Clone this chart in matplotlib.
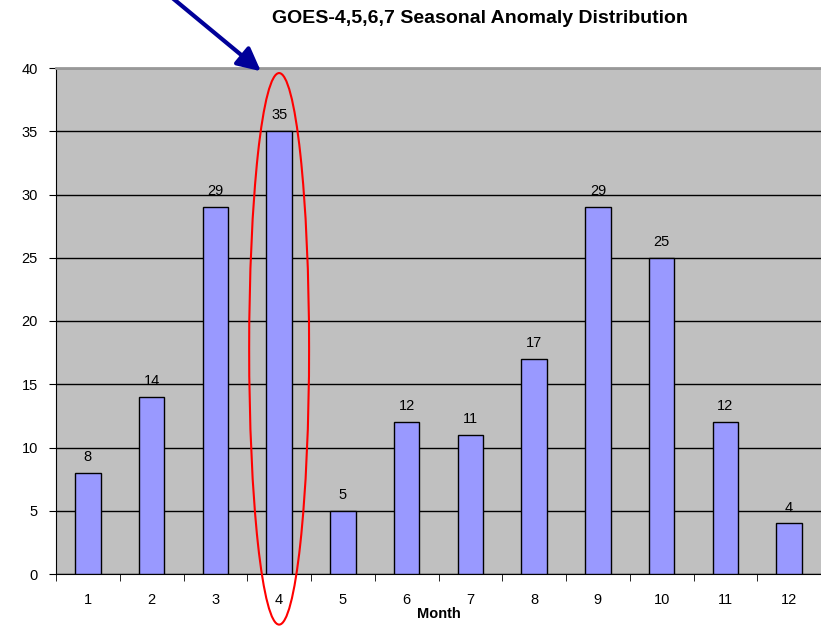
import matplotlib.pyplot as plt
from matplotlib.patches import Ellipse

plt.rcParams['font.family'] = ['Liberation Sans', 'DejaVu Sans']

months = ['1', '2', '3', '4', '5', '6', '7', '8', '9', '10', '11', '12']
counts = [8, 14, 29, 35, 5, 12, 11, 17, 29, 25, 12, 4]

fig = plt.figure(figsize=(8.21, 6.26), dpi=100)
ax = fig.add_axes([56/821, 1-574/626, (821-56)/821, (574-68)/626])
ax.set_facecolor('#C0C0C0')

pos = list(range(len(months)))
ax.bar(pos, counts, width=0.4, color='#9999FF', edgecolor='black', linewidth=1, zorder=3)
for x, c in zip(pos, counts):
    ax.text(x, c + 0.7, str(c), ha='center', va='bottom', fontsize=10.5, zorder=4)

ax.set_xlim(-0.5, 11.5)
ax.set_ylim(0, 40)
ax.set_yticks(range(0, 41, 5))
ax.yaxis.grid(True, color='black', linewidth=1, zorder=1)
ax.set_axisbelow(True)
ax.tick_params(axis='y', length=5, labelsize=10.5, pad=8)

ax.set_xticks(pos)
ax.set_xticklabels(months)
ax.set_xticks([p - 0.5 for p in range(13)], minor=True)
ax.tick_params(axis='x', which='major', length=0, labelsize=10.5, pad=14)
ax.tick_params(axis='x', which='minor', length=5, direction='out')

ax.spines['right'].set_visible(False)
ax.spines['top'].set_color('#999999')
ax.spines['top'].set_linewidth(2)

ax.set_xlabel('Month', fontsize=10.5, fontweight='bold', labelpad=0)

fig.text(0.585, 0.971, 'GOES-4,5,6,7 Seasonal Anomaly Distribution',
         ha='center', va='center', fontsize=14, fontweight='bold')

# highlight April
ell = Ellipse((3, 17.8), 0.94, 43.6, fill=False, edgecolor='red', linewidth=1.5,
              clip_on=False, zorder=5)
ax.add_patch(ell)

ax.annotate('', xy=(263/821, 1-73/626), xytext=(170/821, 1+4/626),
            xycoords='figure fraction', textcoords='figure fraction',
            arrowprops=dict(arrowstyle='-|>,head_length=1.4,head_width=0.7',
                            color='#000099', linewidth=3))

fig.savefig('out.png', dpi=100)
